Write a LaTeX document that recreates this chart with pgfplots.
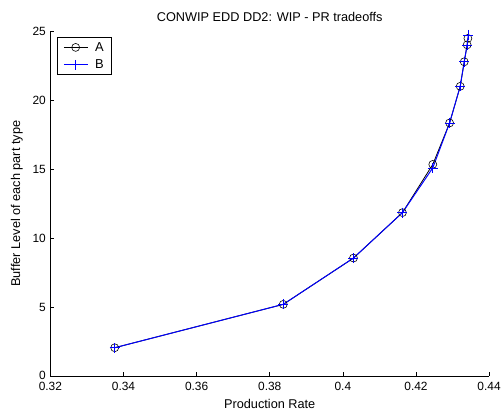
\documentclass[border=0pt]{standalone}
\usepackage{pgfplots}
\pgfplotsset{compat=1.18}
\usepackage{fontspec}
\setmainfont{Liberation Sans}
\begin{document}
\begin{tikzpicture}
\begin{axis}[
  scale only axis,
  width=441.6pt, height=346.6pt,
  xmin=0.32, xmax=0.44, ymin=0, ymax=25,
  axis lines=left,
  axis line style={-, line width=0.6pt},
  tick align=inside,
  major tick length=4pt,
  tick style={black, line width=0.6pt},
  xtick={0.32,0.34,...,0.44},
  ytick={0,5,...,25},
  xticklabels={0.32,0.34,0.36,0.38,0.4,0.42,0.44},
  /pgf/number format/assume math mode=true,
  font=\fontsize{12}{14}\selectfont,
  ticklabel style={font=\fontsize{12}{14}\selectfont},
  xticklabel style={yshift=-3pt},
  yticklabel style={xshift=-1pt},
  title={CONWIP EDD DD2: WIP - PR tradeoffs},
  title style={font=\fontsize{12.8}{14}\selectfont, yshift=0pt},
  xlabel={Production Rate},
  ylabel={Buffer Level of each part type},
  xlabel style={font=\fontsize{12.8}{14}\selectfont, yshift=-2pt},
  ylabel style={font=\fontsize{12.8}{14}\selectfont, yshift=3pt},
  legend style={at={(0.015,0.983)}, anchor=north west, draw=black, line width=0.8pt,
    font=\fontsize{13}{15}\selectfont, inner xsep=6pt, inner ysep=2.5pt, row sep=3pt,
    /tikz/every odd column/.append style={column sep=5pt}},
  legend image code/.code={\draw[mark repeat=2,mark phase=2,#1] plot coordinates {(0cm,0cm) (0.42cm,0cm) (0.84cm,0cm)};},
  legend cell align=left,
  clip=false,
]
\addplot[black, line width=0.8pt, mark=o, mark size=4pt, mark options={line width=0.6pt}]
coordinates {
(0.3376,2.04) (0.3837,5.19) (0.4029,8.55) (0.4163,11.85) (0.4246,15.35)
(0.4292,18.36) (0.4321,21.02) (0.4332,22.8) (0.4340,24.03) (0.4342,24.5)
};
\addlegendentry{A\hspace{6pt}}
\addplot[blue, line width=1pt, mark=+, mark size=5pt, mark options={line width=0.6pt}]
coordinates {
(0.3376,2.04) (0.3837,5.19) (0.4029,8.55) (0.4163,11.85) (0.4246,15.1)
(0.4292,18.36) (0.4321,21.02) (0.4332,22.8) (0.4340,24.03) (0.4343,24.75)
};
\addlegendentry{B\hspace{6pt}}
\end{axis}
\path ([shift={(-50.7pt,-38.7pt)}]current axis.south west) rectangle ([shift={(11.7pt,31.7pt)}]current axis.north east);
\end{tikzpicture}
\end{document}
